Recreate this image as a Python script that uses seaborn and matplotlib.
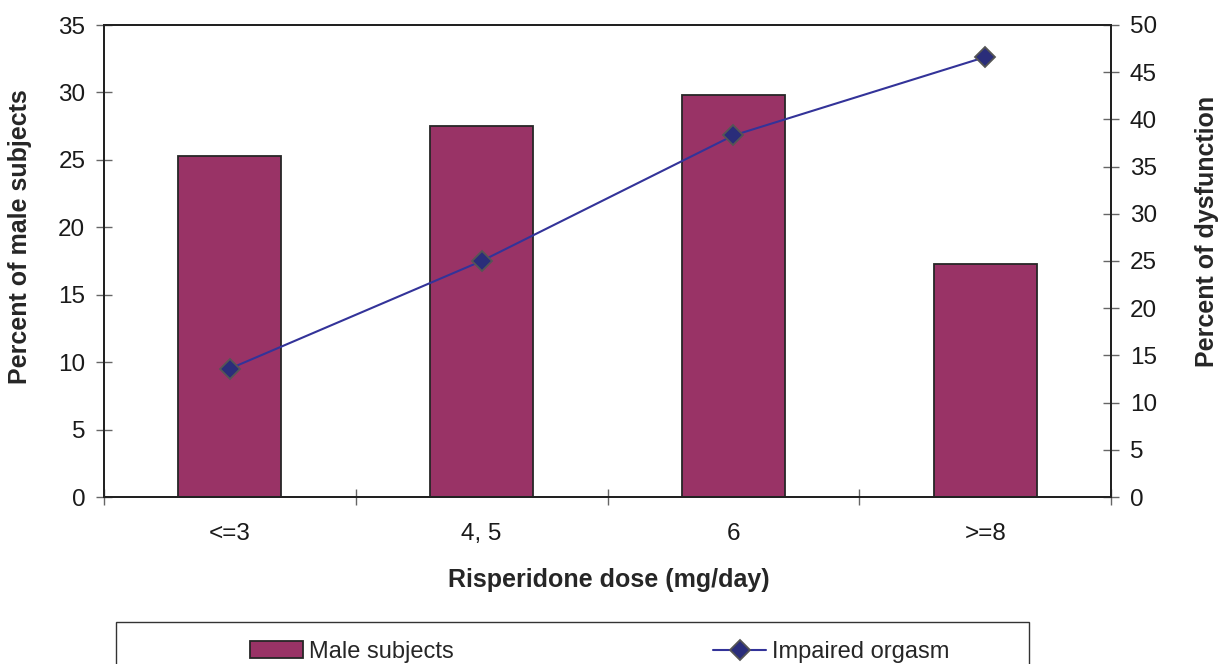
import numpy as np
import matplotlib.pyplot as plt
import seaborn as sns
from matplotlib.patches import Patch, Rectangle
from matplotlib.lines import Line2D

# values
doses = ['<=3', '4, 5', '6', '>=8']
male_subjects = [25.3, 27.5, 29.8, 17.3]      # left axis, bars
impaired_orgasm = [13.6, 25.0, 38.3, 46.6]    # right axis, line

sns.set_style('white')
plt.rcParams['font.family'] = ['Liberation Sans', 'DejaVu Sans']

bar_color = '#993366'
line_color = '#333399'
edge_color = '#262626'
tick_color = '#666666'

fig = plt.figure(figsize=(12.25, 6.64), dpi=100)
ax = fig.add_axes([104 / 1225, 167 / 664, 1007 / 1225, 472 / 664])
ax2 = ax.twinx()

sns.barplot(x=doses, y=male_subjects, ax=ax, color=bar_color, saturation=1,
            width=0.41, edgecolor=edge_color, linewidth=1.3)
sns.pointplot(x=doses, y=impaired_orgasm, ax=ax2, color=line_color, markers='D',
              markersize=10.5, linewidth=1.5, markerfacecolor='#2a2d7a',
              markeredgecolor='#555555', markeredgewidth=1.3, errorbar=None)

ax.set_xlim(-0.5, len(doses) - 0.5)
ax.set_ylim(0, 35)
ax2.set_ylim(0, 50)
ax.set_yticks(np.arange(0, 36, 5))
ax2.set_yticks(np.arange(0, 51, 5))
ax.set_xticks(np.arange(len(doses)))
ax.set_xticklabels(doses)
ax.set_xticks(np.arange(len(doses) + 1) - 0.5, minor=True)

ax.tick_params(axis='y', left=True, direction='inout', length=11, width=1,
               color=tick_color, labelsize=17.5, pad=8, labelcolor='#1a1a1a')
ax2.tick_params(axis='y', right=True, direction='inout', length=11, width=1,
                color=tick_color, labelsize=17.5, pad=8, labelcolor='#1a1a1a')
ax.tick_params(axis='x', which='major', bottom=True, length=0, pad=19,
               labelsize=17.5, labelcolor='#1a1a1a')
ax.tick_params(axis='x', which='minor', bottom=True, direction='inout',
               length=11, width=1, color=tick_color)

for a in (ax, ax2):
    for s in a.spines.values():
        s.set_visible(True)
        s.set_color('#222222')
        s.set_linewidth(1.4)

ax.set_ylabel('Percent of male subjects', fontsize=18, fontweight='bold')
ax.yaxis.set_label_coords(-0.0715, 0.551)
ax2.set_ylabel('Percent of dysfunction', fontsize=18, fontweight='bold')
ax2.yaxis.set_label_coords(1.0834, 0.5636)
ax.set_xlabel('Risperidone dose (mg/day)', fontsize=18, fontweight='bold')
ax.xaxis.set_label_coords(0.5015, -0.150)

# legend box runs off the bottom edge, like the source
fig.add_artist(Rectangle((116 / 1225, -0.05), 913 / 1225, 0.05 + 42 / 664,
                         transform=fig.transFigure, fill=False,
                         edgecolor='#333333', linewidth=1))
handles = [Patch(facecolor=bar_color, edgecolor=edge_color, linewidth=1.3),
           Line2D([], [], color=line_color, marker='D', markersize=10.5,
                  markerfacecolor='#2a2d7a', markeredgecolor='#555555',
                  markeredgewidth=1.3, linewidth=1.5)]
fig.legend(handles, ['Male subjects', 'Impaired orgasm'], loc='center',
           bbox_to_anchor=(599.5 / 1225, 12 / 664), ncol=2, frameon=False,
           fontsize=17, handlelength=2.25, handletextpad=0.25, columnspacing=11.0)

fig.savefig('out.png', dpi=100)
